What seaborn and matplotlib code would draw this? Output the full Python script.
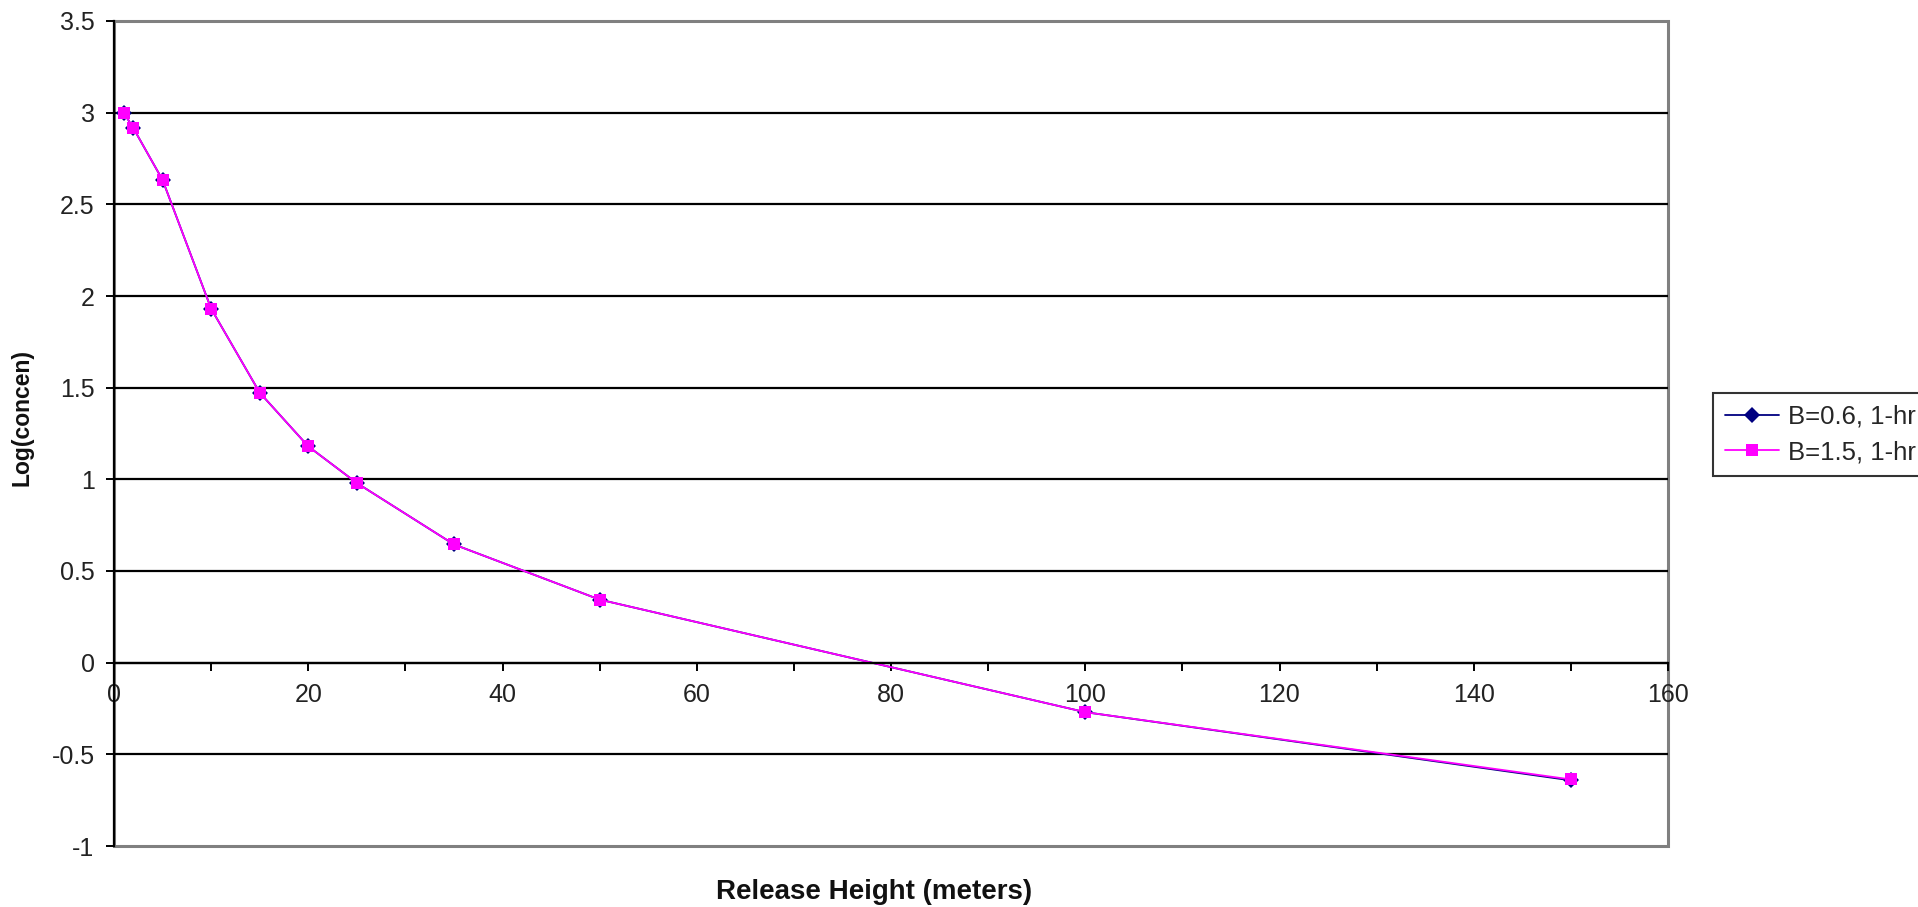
import numpy as np
import pandas as pd
import matplotlib
matplotlib.use("Agg")
import matplotlib.pyplot as plt
from matplotlib.patches import Rectangle
import seaborn as sns

# ---- data ----
heights = [1, 2, 5, 10, 15, 20, 25, 35, 50, 100, 150]
b06_1hr = [3.00, 2.915, 2.633, 1.931, 1.473, 1.18, 0.98, 0.645, 0.344, -0.27, -0.642]
b15_1hr = [3.00, 2.915, 2.633, 1.931, 1.473, 1.18, 0.98, 0.645, 0.344, -0.27, -0.637]
series_names = ["B=0.6, 1-hr", "B=1.5, 1-hr"]
x_ticks = [0, 10, 20, 30, 40, 50, 60, 70, 80, 90, 100, 110, 120, 130, 140, 150, 160]
x_tick_labels = ["0", "", "20", "", "40", "", "60", "", "80", "", "100", "", "120", "", "140", "", "160"]
y_ticks = [-1, -0.5, 0, 0.5, 1, 1.5, 2, 2.5, 3, 3.5]
y_tick_labels = ["-1", "-0.5", "0", "0.5", "1", "1.5", "2", "2.5", "3", "3.5"]

df = pd.DataFrame({
    "x": heights * 2,
    "y": b06_1hr + b15_1hr,
    "series": [series_names[0]] * len(heights) + [series_names[1]] * len(heights),
})

sns.set_theme(style="white")
plt.rcParams["font.family"] = ["Liberation Sans", "DejaVu Sans"]

fig = plt.figure(figsize=(19.18, 9.07), dpi=100)
ax = fig.add_axes([114 / 1918, 1 - 846 / 907, (1668 - 114) / 1918, (846 - 21) / 907])

palette = {series_names[0]: "#000080", series_names[1]: "#FF00FF"}
markers = {series_names[0]: "D", series_names[1]: "s"}
sns.lineplot(data=df, x="x", y="y", hue="series", style="series",
             palette=palette, markers=markers, dashes=False,
             linewidth=1.3, markersize=8, markeredgewidth=0, ax=ax,
             sort=False, legend=True)

ax.set_xlim(0, 160)
ax.set_ylim(-1, 3.5)

# gridlines
for yv in y_ticks:
    if -1 < yv < 3.5:
        ax.axhline(yv, color="black", lw=1.6, zorder=0.5)

ax.spines["top"].set_visible(False)
ax.spines["right"].set_visible(False)
ax.spines["bottom"].set_position(("data", 0))
ax.spines["bottom"].set_color("black")
ax.spines["bottom"].set_linewidth(1.6)
ax.spines["left"].set_color("black")
ax.spines["left"].set_linewidth(1.6)

ax.set_yticks(y_ticks)
ax.set_yticklabels(y_tick_labels, fontsize=18, color="#222222")
ax.set_xticks(x_ticks)
ax.set_xticklabels(x_tick_labels, fontsize=18, color="#222222")
ax.tick_params(axis="y", direction="out", length=6, width=1.4, color="black", pad=8,
               left=True, labelsize=18)
ax.tick_params(axis="x", direction="out", length=6, width=1.4, color="black", pad=9,
               bottom=True, labelsize=18)

ax.add_patch(Rectangle((0, 0), 1, 1, transform=ax.transAxes, fill=False,
                       edgecolor="#808080", lw=2.2, clip_on=False, zorder=0.4))

ax.set_xlabel("")
ax.set_ylabel("")
fig.text(0.4555, 1 - 892 / 907, "Release Height (meters)", ha="center", va="center",
         fontsize=20, fontweight="bold", color="#111111")
fig.text(22 / 1918, 1 - 418 / 907, "Log(concen)", ha="center", va="center", rotation=90,
         fontsize=16.5, fontweight="bold", color="#111111")

handles, labels = ax.get_legend_handles_labels()
ax.get_legend().remove()
pairs = [(h, l) for h, l in zip(handles, labels) if l in series_names]
leg = fig.legend([p[0] for p in pairs], [p[1] for p in pairs],
                 loc="upper left", bbox_to_anchor=(1713 / 1918, 1 - 393 / 907),
                 fontsize=18.5, frameon=True, fancybox=False, borderaxespad=0,
                 handlelength=2.1, handletextpad=0.35, borderpad=0.45, labelspacing=0.45)
leg.get_frame().set_edgecolor("black")
leg.get_frame().set_linewidth(1.5)

fig.savefig("out.png", dpi=100, facecolor="white")
